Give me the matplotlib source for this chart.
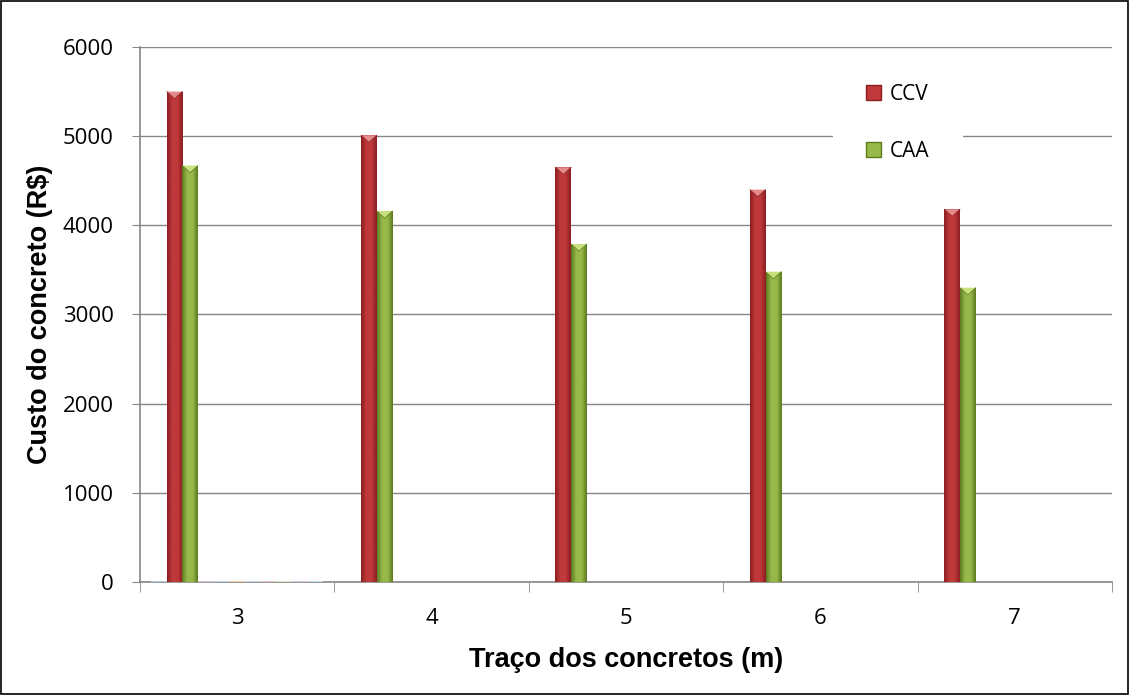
import numpy as np
import matplotlib.pyplot as plt
from matplotlib.patches import Polygon, Patch
from matplotlib.colors import LinearSegmentedColormap

plt.rcParams['font.family'] = ['Liberation Sans', 'DejaVu Sans']

tracos = ['3', '4', '5', '6', '7']
ccv = [5500, 5010, 4650, 4400, 4180]
caa = [4670, 4160, 3790, 3480, 3300]
# other series of the workbook, only traço 3 has (tiny) values
outras = [15, 15, 15, 15, 15, 15, 15, 15, 15]
outras_cores = ['#b7cde6', '#d9c3dc', '#bcd9e6', '#f7cfa6', '#c6d3e8',
                '#e8c4c4', '#d9e4c0', '#d2c9e0', '#bfe0ea']

n_series = 11
w = 1.0 / 12.4
x = np.arange(len(tracos))
start = x - 0.5 + (1 - n_series * w) / 2

fig = plt.figure(figsize=(11.29, 6.95), dpi=100)
ax = fig.add_axes((0.124, 0.1626, 0.861, 0.7698))

def bar3d(ax, left, h, dark, mid, cap):
    cmap = LinearSegmentedColormap.from_list('g', [dark, mid, mid, dark])
    r = ax.bar(left, h, width=w, align='edge', color=mid, zorder=3,
               edgecolor='none')[0]
    grad = np.linspace(0, 1, 64).reshape(1, -1)
    im = ax.imshow(grad, cmap=cmap, aspect='auto', zorder=3.5,
                   extent=(left, left + w, 0, h), interpolation='bicubic')
    im.set_clip_path(r)
    d = min(80, h)
    tri = Polygon([(left, h), (left + w, h), (left + w / 2, h - d)],
                  closed=True, facecolor=cap, edgecolor='none', zorder=4)
    ax.add_patch(tri)
    ax.plot([left, left + w / 2, left + w], [h, h - d, h],
            color=dark, lw=0.5, zorder=4.5)

for i in range(len(tracos)):
    bar3d(ax, start[i] + w, ccv[i], '#8a1d1f', '#c0393b', '#e48a8b')
    bar3d(ax, start[i] + 2 * w, caa[i], '#5c7a1e', '#98b94a', '#c8e07d')

# tiny bars of the remaining series at traço 3
ks = [0] + list(range(3, n_series))
for k, v, c in zip(ks, outras, outras_cores):
    ax.bar(start[0] + k * w, v, width=w, align='edge', color=c, zorder=3)

ax.set_xlim(-0.5, len(tracos) - 0.5)
ax.set_ylim(0, 6000)
ax.set_yticks(np.arange(0, 6001, 1000))
ax.set_xticks(x)
ax.set_xticklabels(tracos)
ax.set_xticks(np.arange(-0.5, len(tracos)), minor=True)
ax.tick_params(axis='x', which='major', length=0, pad=19)
ax.tick_params(axis='x', which='minor', length=7, color='#868686')
ax.tick_params(axis='y', length=6, color='#868686', pad=13)
for lab in ax.get_xticklabels() + ax.get_yticklabels():
    lab.set_fontfamily('Open Sans')
    lab.set_fontsize(16)
ax.grid(axis='y', color='#868686', lw=1, zorder=0)
for s in ['top', 'right']:
    ax.spines[s].set_visible(False)
for s in ['left', 'bottom']:
    ax.spines[s].set_color('#868686')
    ax.spines[s].set_linewidth(1.2)

ax.set_ylabel('Custo do concreto (R$)', fontsize=19.5, fontweight='bold',
              labelpad=7)
ax.set_xlabel('Traço dos concretos (m)', fontsize=19.5, fontweight='bold',
              labelpad=13)

handles = [Patch(facecolor='#c0393b', edgecolor='#8a1d1f'),
           Patch(facecolor='#98b94a', edgecolor='#5c7a1e')]
leg = ax.legend(handles, ['CCV', 'CAA'], loc='center left',
                bbox_to_anchor=(0.713, 0.858), frameon=True,
                prop={'family': 'Open Sans', 'size': 15},
                labelspacing=1.75, handlelength=0.72, handleheight=0.72,
                handletextpad=0.4, borderpad=1.6, borderaxespad=0,
                fancybox=False)
leg.get_frame().set_edgecolor('none')
leg.get_frame().set_facecolor('white')
leg.get_frame().set_alpha(1)
leg.set_zorder(5)

# outer border
fig.patches.append(plt.Rectangle((0.001, 0.001), 0.998, 0.998,
                                 transform=fig.transFigure, fill=False,
                                 edgecolor='black', lw=1.2))

fig.savefig('out.png', dpi=100)
